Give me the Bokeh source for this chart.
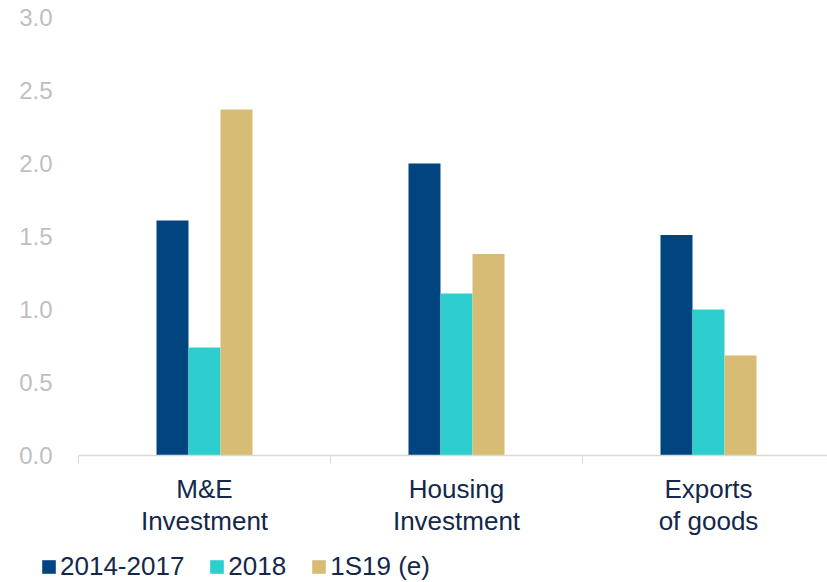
from bokeh.plotting import figure
from bokeh.models import (Range1d, FixedTicker, NumeralTickFormatter, Legend, LegendItem, ColumnDataSource)
from bokeh.layouts import column
from bokeh.embed import file_html
from bokeh.resources import INLINE

categories = ["M&E\nInvestment", "Housing\nInvestment", "Exports\nof goods"]
series_names = ["2014-2017", "2018", "1S19 (e)"]
s_2014_2017 = [1.61, 2.00, 1.51]
s_2018 = [0.74, 1.11, 1.00]
s_1s19 = [2.37, 1.38, 0.685]
y_ticks = [0.0, 0.5, 1.0, 1.5, 2.0, 2.5, 3.0]
colors = ["#004580", "#2ECECE", "#D7BC74"]

FONT = "Liberation Sans"
TEXT = "#13284A"
GRAY = "#BFBFBF"
AXIS = "#D9D9D9"

n = len(categories)
idx = list(range(n))
all_series = [s_2014_2017, s_2018, s_1s19]

p = figure(width=827, height=540, output_backend="svg", toolbar_location=None,
           x_range=Range1d(-0.5, -0.5 + 749 / 252), y_range=Range1d(0, 3.0),
           min_border_left=78, min_border_right=0, min_border_top=17, min_border_bottom=85)
p.outline_line_color = None
p.xgrid.visible = False
p.ygrid.visible = False
p.background_fill_color = "white"
p.border_fill_color = "white"
p.frame_align = False

bw = 0.127
offsets = [-bw, 0.0, bw]
for vals, off, col in zip(all_series, offsets, colors):
    src = ColumnDataSource(dict(x=[i + off for i in idx], top=vals))
    p.vbar(x="x", top="top", width=bw, source=src, fill_color=col, line_color=None)

# x axis
xa = p.xaxis[0]
xa.ticker = FixedTicker(ticks=idx, minor_ticks=[i - 0.5 for i in range(n + 1)])
xa.major_label_overrides = {i: c for i, c in zip(idx, categories)}
xa.major_tick_line_color = None
xa.major_tick_out = 8
xa.minor_tick_in = 0
xa.minor_tick_out = 8
xa.minor_tick_line_color = AXIS
xa.axis_line_color = AXIS
xa.axis_line_width = 1.5
xa.major_label_standoff = 10
xa.major_label_text_font = FONT
xa.major_label_text_font_size = "26px"
xa.major_label_text_line_height = 1.07
xa.major_label_text_color = TEXT

# y axis
ya = p.yaxis[0]
ya.ticker = FixedTicker(ticks=y_ticks)
ya.formatter = NumeralTickFormatter(format="0.0")
ya.axis_line_color = None
ya.major_tick_line_color = None
ya.minor_tick_line_color = None
ya.major_label_standoff = 20
ya.major_label_text_font = FONT
ya.major_label_text_font_size = "24px"
ya.major_label_text_color = GRAY

# legend strip (hidden copies of the series feed the legend swatches)
p2 = figure(width=827, height=42, output_backend="svg", toolbar_location=None,
            x_range=Range1d(0, 1), y_range=Range1d(0, 1),
            min_border_left=0, min_border_right=0, min_border_top=0, min_border_bottom=0)
p2.frame_align = False
p2.axis.visible = False
p2.grid.visible = False
p2.outline_line_color = None
items = []
for nm, vals, col in zip(series_names, all_series, colors):
    r = p2.vbar(x=idx, top=vals, width=bw, fill_color=col, line_color=None, visible=False)
    items.append(LegendItem(label=nm, renderers=[r]))
legend = Legend(items=items, orientation="horizontal", location=(40, 0),
                glyph_width=17, glyph_height=17, label_standoff=3, spacing=24,
                padding=0, margin=0, border_line_color=None, background_fill_color=None,
                inactive_fill_alpha=0.0,
                label_text_font=FONT, label_text_font_size="26px", label_text_color=TEXT)
p2.add_layout(legend, "center")

layout = column(p, p2, spacing=0)
open("out.html", "w").write(file_html(layout, INLINE))
